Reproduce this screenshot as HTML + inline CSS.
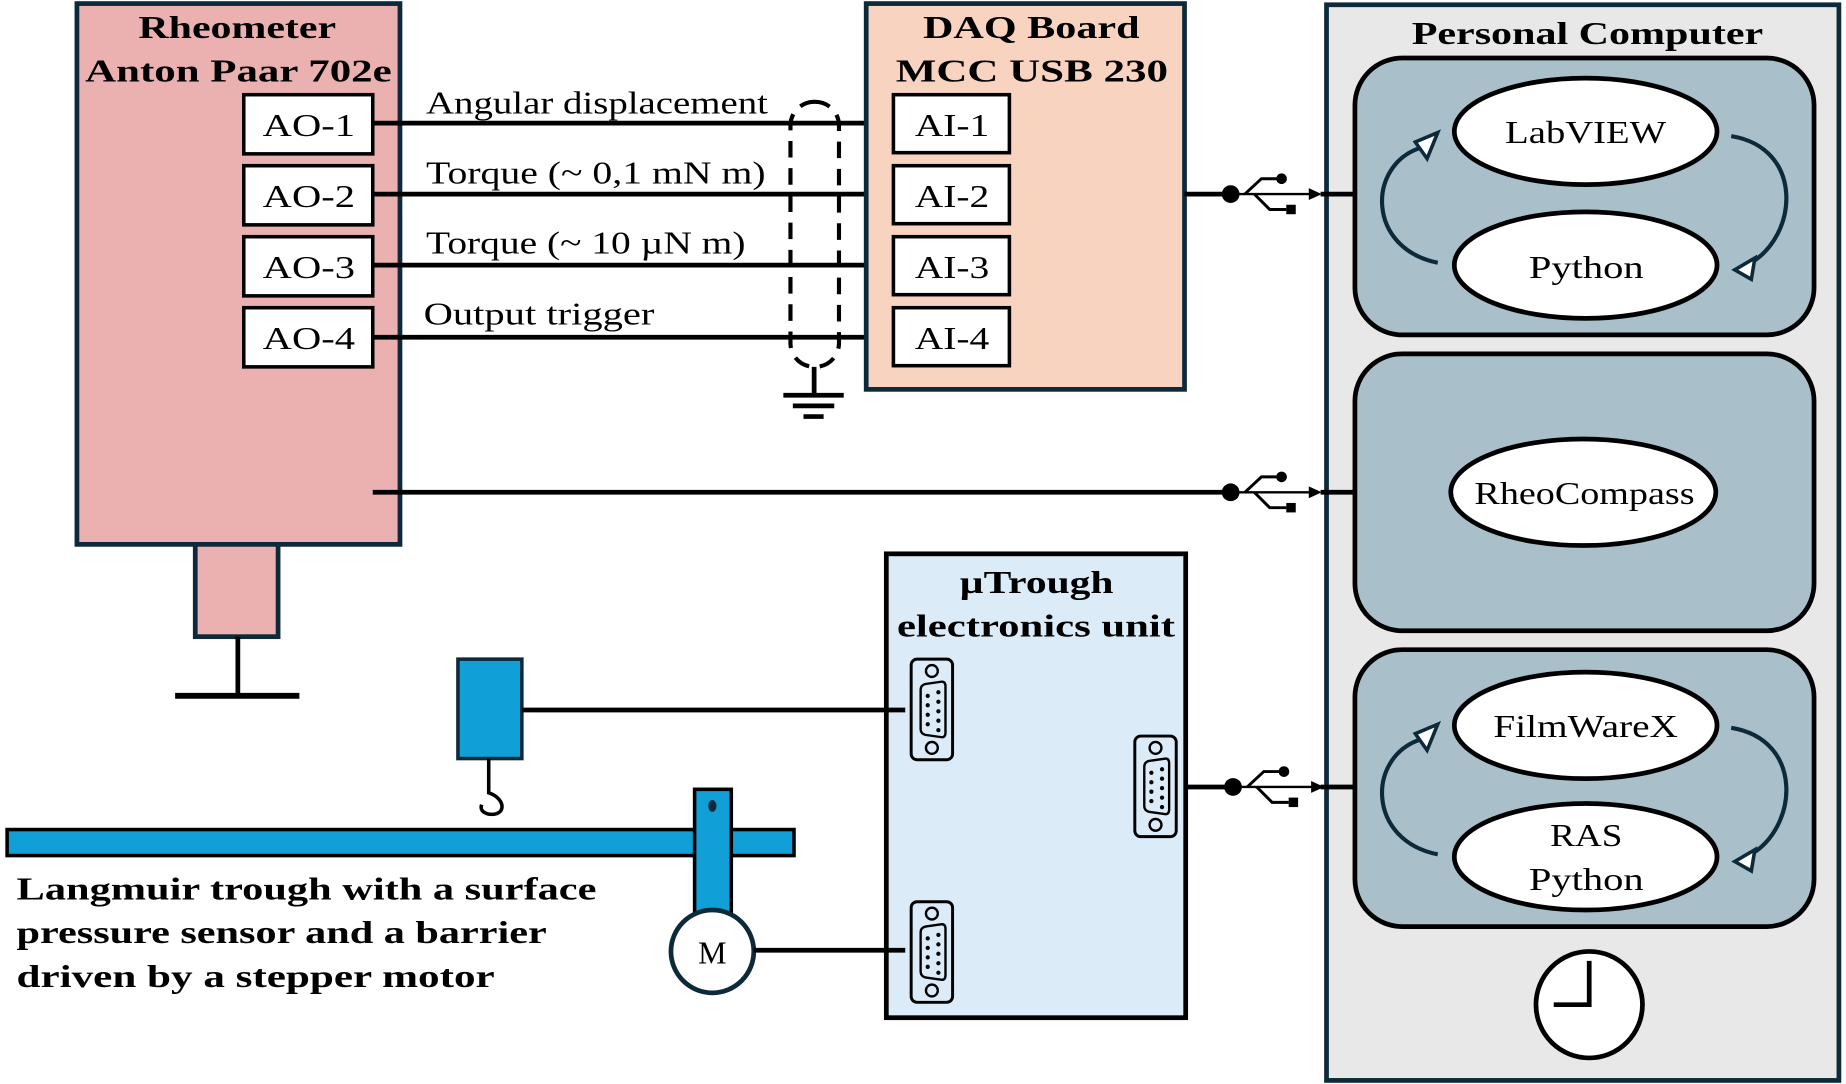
<!DOCTYPE html>
<html><head><meta charset="utf-8"><style>
html,body{margin:0;padding:0;background:#fff;}
svg{display:block;}
text{font-family:"Liberation Serif",serif;fill:#000;}
.b{font-weight:bold;}
</style></head><body>
<svg width="1846" height="1084" viewBox="0 0 1560 916" xmlns="http://www.w3.org/2000/svg">
<defs>
<g id="db9">
<rect x="0" y="0" width="35" height="85" rx="5" fill="none" stroke="#000" stroke-width="2.5"/>
<circle cx="17.5" cy="10" r="5" fill="none" stroke="#000" stroke-width="2"/>
<circle cx="17.5" cy="75" r="5" fill="none" stroke="#000" stroke-width="2"/>
<path d="M8,26 Q8,22 12,21 L26,19 Q29,19 29,23 L29,62 Q29,66 26,66 L12,64 Q8,63 8,59 Z" fill="none" stroke="#000" stroke-width="2"/>
<g fill="#000"><circle cx="14" cy="31" r="1.8"/><circle cx="14" cy="39" r="1.8"/><circle cx="14" cy="47" r="1.8"/><circle cx="14" cy="55" r="1.8"/>
<circle cx="23" cy="28" r="1.8"/><circle cx="23" cy="36" r="1.8"/><circle cx="23" cy="44" r="1.8"/><circle cx="23" cy="52" r="1.8"/><circle cx="23" cy="60" r="1.8"/></g>
</g>
<g id="usb">
<circle cx="0" cy="0" r="7.5" fill="#000"/>
<line x1="0" y1="0" x2="70" y2="0" stroke="#000" stroke-width="2"/>
<polygon points="77,0 66,-5 66,5" fill="#000"/>
<path d="M12,0 L26,-13 L40,-13" fill="none" stroke="#000" stroke-width="2.5"/>
<circle cx="43" cy="-13" r="4.5" fill="#000"/>
<path d="M20,0 L33,13 L47,13" fill="none" stroke="#000" stroke-width="2.5"/>
<rect x="47" y="9" width="8" height="8" fill="#000"/>
</g>
</defs>

<!-- Rheometer -->
<rect x="65" y="3" width="273" height="457" fill="#eab1b0" stroke="#0d2a3a" stroke-width="4"/>
<text x="117" y="32" font-size="27" class="b" textLength="167" lengthAdjust="spacingAndGlyphs">Rheometer</text>
<text x="72" y="69" font-size="27" class="b" textLength="259" lengthAdjust="spacingAndGlyphs">Anton Paar 702e</text>
<rect x="165" y="460" width="70" height="78" fill="#eab1b0" stroke="#0d2a3a" stroke-width="4"/>
<line x1="201" y1="538" x2="201" y2="588" stroke="#000" stroke-width="4"/>
<line x1="148" y1="588" x2="253" y2="588" stroke="#000" stroke-width="5"/>

<g stroke="#000" stroke-width="3" fill="#fff">
<rect x="206" y="80" width="109" height="50"/><rect x="206" y="140" width="109" height="50"/>
<rect x="206" y="200" width="109" height="50"/><rect x="206" y="260" width="109" height="50"/>
</g>
<g font-size="27">
<text x="222" y="115" textLength="78" lengthAdjust="spacingAndGlyphs">AO-1</text>
<text x="222" y="175" textLength="78" lengthAdjust="spacingAndGlyphs">AO-2</text>
<text x="222" y="235" textLength="78" lengthAdjust="spacingAndGlyphs">AO-3</text>
<text x="222" y="295" textLength="78" lengthAdjust="spacingAndGlyphs">AO-4</text>
</g>

<!-- signal lines -->
<g stroke="#000" stroke-width="4">
<line x1="315" y1="104" x2="756" y2="104"/><line x1="315" y1="164" x2="756" y2="164"/>
<line x1="315" y1="224" x2="756" y2="224"/><line x1="315" y1="285" x2="756" y2="285"/>
</g>
<g font-size="27">
<text x="360" y="96" textLength="289" lengthAdjust="spacingAndGlyphs">Angular displacement</text>
<text x="360" y="155" textLength="287" lengthAdjust="spacingAndGlyphs">Torque (~ 0,1 mN m)</text>
<text x="360" y="214" textLength="270" lengthAdjust="spacingAndGlyphs">Torque (~ 10 µN m)</text>
<text x="358" y="274" textLength="195" lengthAdjust="spacingAndGlyphs">Output trigger</text>
</g>
<rect x="668" y="86" width="41" height="224" rx="20" fill="none" stroke="#000" stroke-width="3.5" stroke-dasharray="14,9"/>
<g stroke="#000">
<line x1="688" y1="310" x2="688" y2="334" stroke-width="4"/>
<line x1="662" y1="334" x2="713" y2="334" stroke-width="4"/>
<line x1="670" y1="343" x2="705" y2="343" stroke-width="4"/>
<line x1="679" y1="352" x2="696" y2="352" stroke-width="4"/>
</g>

<!-- DAQ -->
<rect x="732" y="3" width="269" height="326" fill="#f8d4c0" stroke="#0d2a3a" stroke-width="4"/>
<text x="780" y="32" font-size="27" class="b" textLength="183" lengthAdjust="spacingAndGlyphs">DAQ Board</text>
<text x="757" y="69" font-size="27" class="b" textLength="230" lengthAdjust="spacingAndGlyphs">MCC USB 230</text>
<g stroke="#000" stroke-width="3" fill="#fff">
<rect x="755" y="80" width="98" height="49"/><rect x="755" y="140" width="98" height="49"/>
<rect x="755" y="200" width="98" height="49"/><rect x="755" y="260" width="98" height="49"/>
</g>
<g font-size="27">
<text x="773" y="115" textLength="63" lengthAdjust="spacingAndGlyphs">AI-1</text>
<text x="773" y="175" textLength="63" lengthAdjust="spacingAndGlyphs">AI-2</text>
<text x="773" y="235" textLength="63" lengthAdjust="spacingAndGlyphs">AI-3</text>
<text x="773" y="295" textLength="63" lengthAdjust="spacingAndGlyphs">AI-4</text>
</g>

<!-- PC -->
<rect x="1121" y="4" width="433" height="909" fill="#e8e8e8" stroke="#0d2a3a" stroke-width="4"/>
<text x="1193" y="37" font-size="27" class="b" textLength="297" lengthAdjust="spacingAndGlyphs">Personal Computer</text>

<!-- USB links -->
<g stroke="#000" stroke-width="4">
<line x1="1001" y1="164" x2="1038" y2="164"/>
<line x1="1116" y1="164" x2="1146" y2="164"/>
<line x1="315" y1="416" x2="1038" y2="416"/>
<line x1="1116" y1="416" x2="1146" y2="416"/>
<line x1="1002" y1="665" x2="1040" y2="665"/>
<line x1="1116" y1="665" x2="1146" y2="665"/>
</g>
<use href="#usb" x="1040" y="164"/>
<use href="#usb" x="1040" y="416"/>
<use href="#usb" x="1042" y="665"/>

<!-- Panels -->
<g fill="#a9bfca" stroke="#000" stroke-width="4">
<rect x="1145" y="49" width="388" height="234" rx="40"/>
<rect x="1145" y="299" width="388" height="234" rx="40"/>
<rect x="1145" y="549" width="388" height="234" rx="40"/>
</g>
<g fill="#fff" stroke="#000" stroke-width="4">
<ellipse cx="1340" cy="111" rx="111" ry="45"/>
<ellipse cx="1340" cy="224" rx="111" ry="45"/>
<ellipse cx="1338" cy="416" rx="112" ry="45"/>
<ellipse cx="1340" cy="613" rx="111" ry="45"/>
<ellipse cx="1340" cy="724" rx="111" ry="45"/>
</g>
<g font-size="27">
<text x="1272" y="121" textLength="136" lengthAdjust="spacingAndGlyphs">LabVIEW</text>
<text x="1292" y="235" textLength="97" lengthAdjust="spacingAndGlyphs">Python</text>
<text x="1246" y="426" textLength="186" lengthAdjust="spacingAndGlyphs">RheoCompass</text>
<text x="1262" y="623" textLength="156" lengthAdjust="spacingAndGlyphs">FilmWareX</text>
<text x="1310" y="715" textLength="61" lengthAdjust="spacingAndGlyphs">RAS</text>
<text x="1292" y="752" textLength="97" lengthAdjust="spacingAndGlyphs">Python</text>
</g>
<!-- cycle arrows -->
<g fill="none" stroke="#0d2a3a" stroke-width="3.5">
<path d="M1215,222 C1155,210 1155,140 1200,125"/>
<path d="M1463,115 C1525,125 1520,200 1478,223"/>
<path d="M1215,722 C1155,710 1155,640 1200,625"/>
<path d="M1463,615 C1525,625 1520,700 1478,723"/>
</g>
<g fill="#fff" stroke="#0d2a3a" stroke-width="3">
<polygon points="1215,112 1196,120 1206,134"/>
<polygon points="1466,228 1483,218 1480,236"/>
<polygon points="1215,612 1196,620 1206,634"/>
<polygon points="1466,728 1483,718 1480,736"/>
</g>
<!-- clock -->
<circle cx="1343" cy="849" r="45" fill="#fff" stroke="#000" stroke-width="4"/>
<path d="M1343,812 L1343,849 L1313,849" fill="none" stroke="#000" stroke-width="4"/>

<!-- uTrough -->
<rect x="749" y="468" width="253" height="392" fill="#dbecf8" stroke="#000" stroke-width="4"/>
<text x="811" y="501" font-size="27" class="b" textLength="130" lengthAdjust="spacingAndGlyphs">µTrough</text>
<text x="758" y="538" font-size="27" class="b" textLength="235" lengthAdjust="spacingAndGlyphs">electronics unit</text>
<use href="#db9" x="770" y="557"/>
<use href="#db9" x="959" y="622"/>
<use href="#db9" x="770" y="762"/>

<!-- sensor -->
<rect x="387" y="557" width="54" height="84" fill="#119fd7" stroke="#0d2a3a" stroke-width="3"/>
<line x1="441" y1="600" x2="765" y2="600" stroke="#000" stroke-width="4"/>
<path d="M413,641 L413,670 C428,675 428,690 413,688 Q405,686 407,680" fill="none" stroke="#000" stroke-width="3"/>
<!-- trough -->
<rect x="6" y="701" width="665" height="22" fill="#119fd7" stroke="#000" stroke-width="3"/>
<rect x="587" y="667" width="31" height="106" fill="#119fd7" stroke="#000" stroke-width="3"/>
<ellipse cx="602" cy="681" rx="3.5" ry="5" fill="#0d2a3a"/>
<circle cx="602" cy="804" r="35" fill="#fff" stroke="#0d2a3a" stroke-width="4"/>
<text x="602" y="814" font-size="27" text-anchor="middle">M</text>
<line x1="637" y1="803" x2="765" y2="803" stroke="#000" stroke-width="4"/>

<g font-size="27" class="b">
<text x="14" y="760" textLength="490" lengthAdjust="spacingAndGlyphs">Langmuir trough with a surface</text>
<text x="14" y="797" textLength="448" lengthAdjust="spacingAndGlyphs">pressure sensor and a barrier</text>
<text x="14" y="834" textLength="404" lengthAdjust="spacingAndGlyphs">driven by a stepper motor</text>
</g>
</svg>
</body></html>
